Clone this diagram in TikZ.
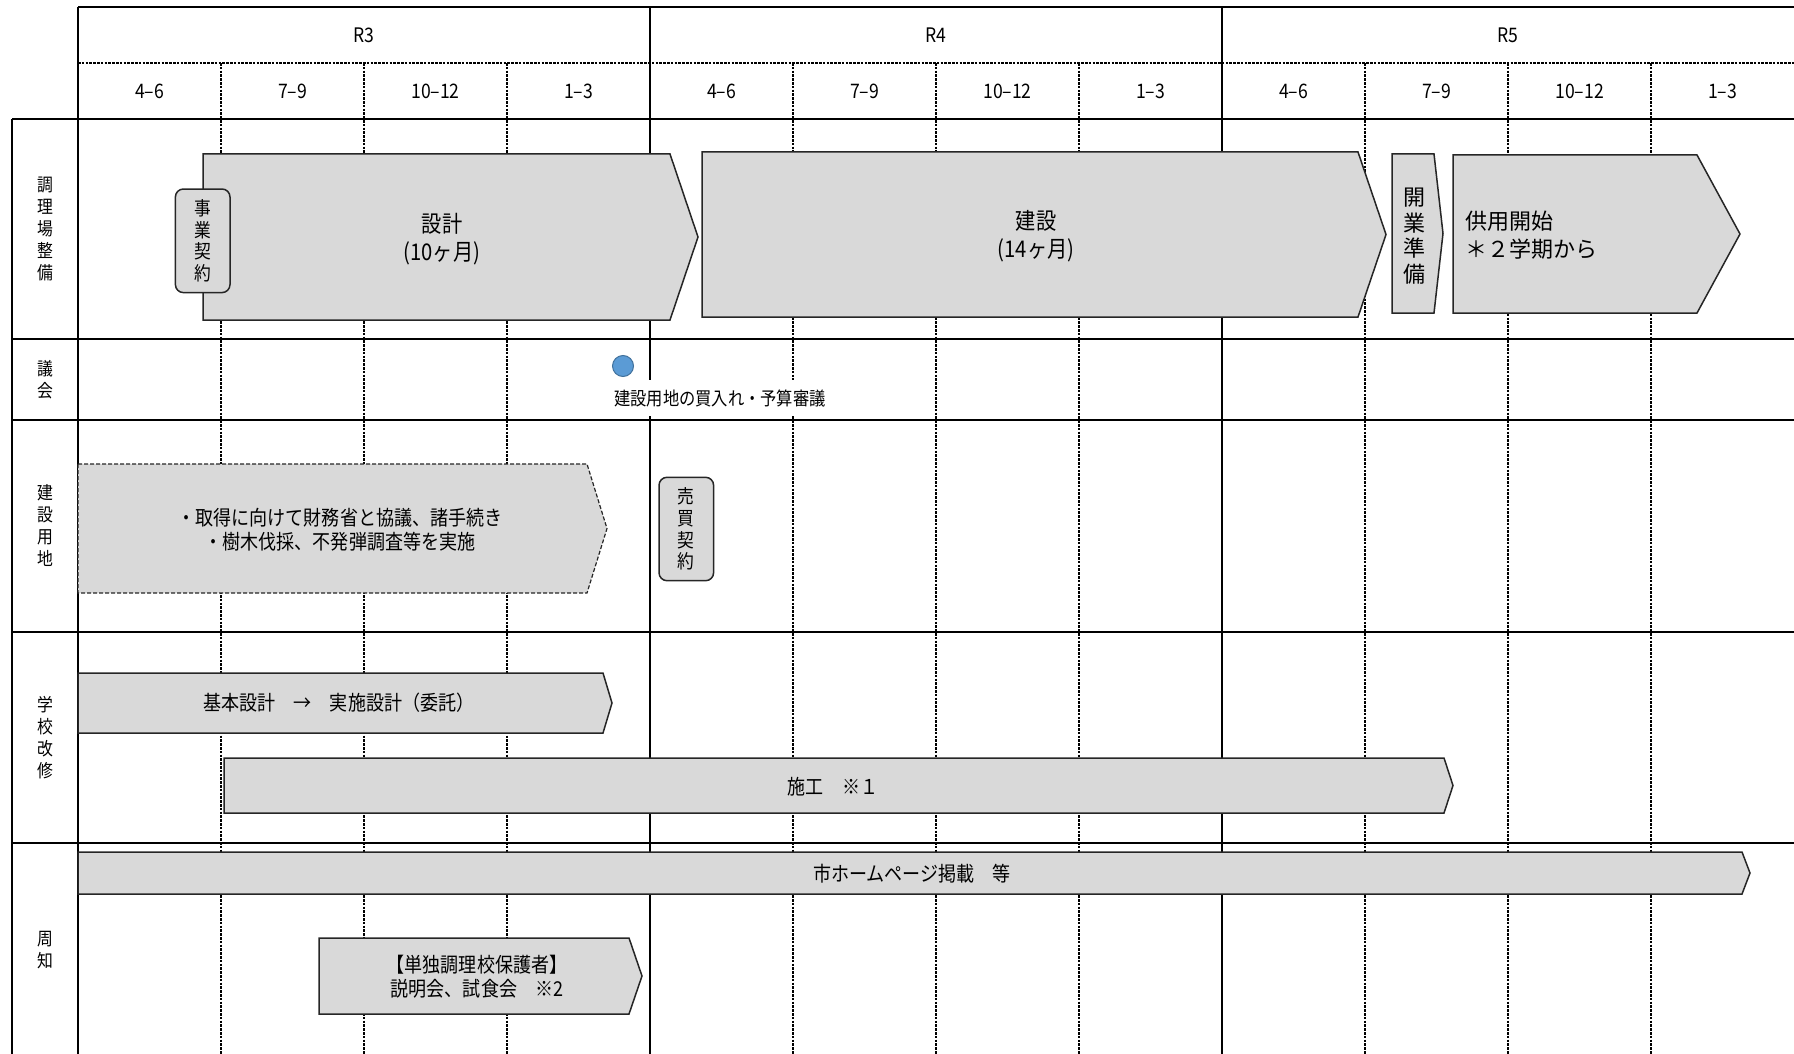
\documentclass[tikz,border=0pt]{standalone}
\usepackage{fontspec}
\newfontfamily\jp[FakeStretch=0.88]{Noto Sans CJK JP}
\newfontfamily\jpw{Noto Sans CJK JP}
\definecolor{barfill}{HTML}{D9D9D9}
\definecolor{barline}{HTML}{262626}
\definecolor{dotblue}{HTML}{5B9BD5}
\definecolor{dotedge}{HTML}{41719C}
\newcommand\ganttbar[6][]{%
  \draw[bar,#1] (#2,#3) -- (#4,#3) -- (#6,{(#3+#5)/2}) -- (#4,#5) -- (#2,#5) -- cycle;}
\begin{document}
\begin{tikzpicture}[x=0.5pt,y=-0.5pt,
  rowline/.style={line width=1pt,black},
  colline/.style={line width=0.9pt,black},
  yearline/.style={line width=0.75pt,black},
  dotline/.style={line width=0.7pt,black,dash pattern=on 1.3pt off 0.6pt},
  bar/.style={fill=barfill,draw=barline,line width=0.75pt,line join=miter},
  dashbar/.style={dash pattern=on 2pt off 1pt,line width=0.6pt},
  hdr/.style={font=\jp\fontsize{10pt}{12pt}\selectfont,inner sep=0pt},
  rowlab/.style={font=\jp\fontsize{9pt}{11pt}\selectfont,align=center,inner sep=0pt},
  bartxt/.style={font=\jp\fontsize{10.25pt}{11.85pt}\selectfont,align=center,inner sep=0pt,text=black},
  bigtxt/.style={font=\jp\fontsize{11.5pt}{14pt}\selectfont,align=center,inner sep=0pt},
  vbox/.style={draw=barline,fill=barfill,line width=0.75pt,rounded corners=4pt,
    minimum width=27.3pt,minimum height=51.8pt,inner sep=0pt,align=center,
    font=\jp\fontsize{9.5pt}{10.85pt}\selectfont},
]
\useasboundingbox (0,0) rectangle (1794,1054);
% ---------- grid ----------
\draw[dotline] (78,63) -- (1794,63);
\foreach \k in {1,2,3,5,6,7,9,10,11}
  \draw[dotline] ({78+143*\k},63) -- ({78+143*\k},1054);
\draw[yearline] (650,7) -- (650,1054);
\draw[yearline] (1222,7) -- (1222,1054);
\draw[colline] (12,119) -- (12,1054);
\draw[colline] (78,7) -- (78,1054);
\draw[rowline] (78,7) -- (1794,7);
\foreach \y in {119,339,420,632,843}
  \draw[rowline] (12,\y) -- (1794,\y);
% ---------- header ----------
\node[hdr] (yr3) at (364,35) {R3};
\node[hdr] (yr4) at (936,35) {R4};
\node[hdr] (yr5) at (1508,35) {R5};
\foreach \k/\t in {0/4–6,1/7–9,2/10–12,3/1–3,4/4–6,5/7–9,6/10–12,7/1–3,8/4–6,9/7–9,10/10–12,11/1–3}
  \node[hdr] (q\k) at ({78+143*\k+71.5},91) {\t};
% ---------- row labels ----------
\node[rowlab] (lab1) at (45,229) {調\\理\\場\\整\\備};
\node[rowlab] (lab2) at (45,380) {議\\会};
\node[rowlab] (lab3) at (45,526) {建\\設\\用\\地};
\node[rowlab] (lab4) at (45,738) {学\\校\\改\\修};
\node[rowlab] (lab5) at (45,950) {周\\知};
% ---------- row 1 ----------
\ganttbar{203}{154}{670}{320}{698}
\node[bigtxt] (sekkei) at (442,239) {設計\\(10ヶ月)};
\node[vbox] (jigyo) at (202.7,240.8) {事\\業\\契\\約};
\ganttbar{702}{152}{1358}{317}{1386}
\node[bigtxt] (kensetsu) at (1036,236) {建設\\(14ヶ月)};
\ganttbar{1392}{154}{1434}{313}{1443}
\node[font=\jpw\fontsize{11pt}{12.75pt}\selectfont,align=center,inner sep=0pt] (kaigyo) at (1414,236) {開\\業\\準\\備};
\ganttbar{1453}{155}{1697}{313}{1740}
\node[font=\jpw\fontsize{11pt}{14pt}\selectfont,align=left,anchor=west,inner sep=0pt] (kyoyo) at (1465,235) {供用開始\\＊２学期から};
% ---------- row 2 ----------
\node[circle,fill=dotblue,draw=dotedge,line width=0.5pt,minimum size=10.5pt,inner sep=0pt] (dot) at (623,366) {};
\node[fill=white,inner xsep=1pt,inner ysep=0pt,minimum height=18pt,font=\jp\fontsize{9.25pt}{11pt}\selectfont] (gikai) at (720,398) {建設用地の買入れ・予算審議};
% ---------- row 3 ----------
\ganttbar[dashbar]{78}{464}{587}{593}{607}
\node[bartxt] (shutoku) at (340,530) {・取得に向けて財務省と協議、諸手続き\\・樹木伐採、不発弾調査等を実施};
\node[vbox,minimum height=51.7pt] (baibai) at (686.3,529) {売\\買\\契\\約};
% ---------- row 4 ----------
\ganttbar{78}{673}{603}{733}{612}
\node[bartxt] (kihon) at (339,703) {基本設計　→　実施設計（委託）};
\ganttbar{224}{758}{1444}{813}{1453}
\node[bartxt] (seko) at (833,787) {施工　※１};
% ---------- row 5 ----------
\ganttbar{78}{852}{1742}{894}{1750}
\node[bartxt] (hp) at (912,874) {市ホームページ掲載　等};
\ganttbar{319}{938}{629}{1014}{642}
\node[bartxt] (setsumei) at (477,977) {【単独調理校保護者】\\説明会、試食会　※2};
\end{tikzpicture}
\end{document}
